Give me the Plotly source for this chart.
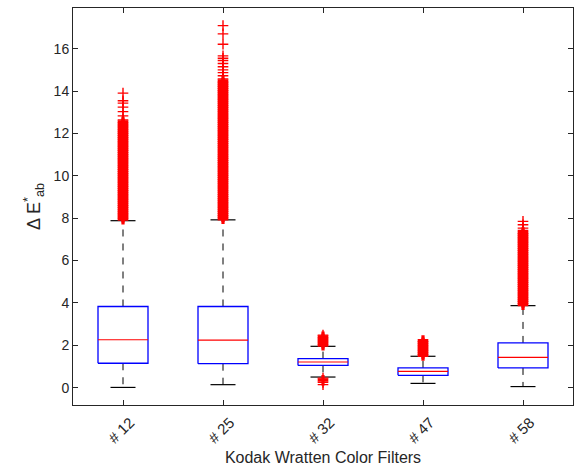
import plotly.graph_objects as go

# ---- data ----
filters = ["# 12", "# 25", "# 32", "# 47", "# 58"]
q1 = [1.15, 1.13, 1.05, 0.58, 0.93]
median = [2.26, 2.24, 1.21, 0.77, 1.43]
q3 = [3.83, 3.83, 1.37, 0.93, 2.11]
whisker_low = [0.01, 0.14, 0.50, 0.20, 0.05]
whisker_high = [7.88, 7.92, 1.95, 1.48, 3.87]

out_12 = [7.95, 8.05, 8.15, 8.25, 8.35, 8.45, 8.55, 8.65, 8.75, 8.85, 8.95, 9.05,
          9.15, 9.25, 9.35, 9.45, 9.55, 9.65, 9.75, 9.85, 9.95, 10.05, 10.15, 10.25,
          10.35, 10.45, 10.55, 10.65, 10.75, 10.85, 10.95, 11.05, 11.15, 11.25, 11.35,
          11.45, 11.55, 11.65, 11.75, 11.85, 11.95, 12.05, 12.15, 12.25, 12.35, 12.45,
          12.55, 12.64, 12.83, 13.03, 13.24, 13.43, 13.54, 13.9]
out_25 = [7.97, 8.07, 8.17, 8.27, 8.37, 8.47, 8.57, 8.67, 8.77, 8.87, 8.97, 9.07,
          9.17, 9.27, 9.37, 9.47, 9.57, 9.67, 9.77, 9.87, 9.97, 10.07, 10.17, 10.27,
          10.37, 10.47, 10.57, 10.67, 10.77, 10.87, 10.97, 11.07, 11.17, 11.27, 11.37,
          11.47, 11.57, 11.67, 11.77, 11.87, 11.97, 12.07, 12.17, 12.27, 12.37, 12.47,
          12.57, 12.67, 12.77, 12.87, 12.97, 13.07, 13.17, 13.27, 13.37, 13.47, 13.57,
          13.67, 13.77, 13.87, 13.97, 14.07, 14.17, 14.27, 14.37, 14.47, 14.57,
          14.72, 14.87, 15.0, 15.15, 15.3, 15.44, 15.55, 15.66, 16.21, 16.7, 17.09]
out_32 = [2.0, 2.1, 2.2, 2.3, 2.4, 2.48, 0.45, 0.35, 0.25, 0.14]
out_47 = [1.52, 1.62, 1.72, 1.82, 1.92, 2.02, 2.12, 2.22]
out_58 = [3.92, 4.02, 4.12, 4.22, 4.32, 4.42, 4.52, 4.62, 4.72, 4.82, 4.92, 5.02,
          5.12, 5.22, 5.32, 5.42, 5.52, 5.62, 5.72, 5.82, 5.92, 6.02, 6.12, 6.22,
          6.32, 6.42, 6.52, 6.62, 6.72, 6.82, 6.92, 7.02, 7.12, 7.22, 7.32, 7.42,
          7.53, 7.69, 7.85]
outliers = [out_12, out_25, out_32, out_47, out_58]

pos = list(range(1, len(filters) + 1))
BOXW = 0.5
CAPW = 0.25
AX = "#262626"

fig = go.Figure()

# whiskers (dashed black)
wx, wy = [], []
for p, a, b, c, d in zip(pos, whisker_low, q1, q3, whisker_high):
    wx += [p, p, None, p, p, None]
    wy += [b, a, None, c, d, None]
fig.add_trace(go.Scatter(x=wx, y=wy, mode="lines",
                         line=dict(color="black", width=1, dash="7px,7px"),
                         showlegend=False, hoverinfo="skip"))

# whisker caps
cx, cy = [], []
for p, a, d in zip(pos, whisker_low, whisker_high):
    cx += [p - CAPW / 2, p + CAPW / 2, None, p - CAPW / 2, p + CAPW / 2, None]
    cy += [a, a, None, d, d, None]
fig.add_trace(go.Scatter(x=cx, y=cy, mode="lines",
                         line=dict(color="black", width=1.2),
                         showlegend=False, hoverinfo="skip"))

# box bodies (blue rectangles)
bx, by = [], []
for p, a, b in zip(pos, q1, q3):
    l, r = p - BOXW / 2, p + BOXW / 2
    bx += [l, r, r, l, l, None]
    by += [a, a, b, b, a, None]
fig.add_trace(go.Scatter(x=bx, y=by, mode="lines",
                         line=dict(color="blue", width=1.3),
                         showlegend=False, hoverinfo="skip"))

# medians (red)
mx, my = [], []
for p, m in zip(pos, median):
    mx += [p - BOXW / 2, p + BOXW / 2, None]
    my += [m, m, None]
fig.add_trace(go.Scatter(x=mx, y=my, mode="lines",
                         line=dict(color="red", width=1.2),
                         showlegend=False, hoverinfo="skip"))

# outliers (red +); densely packed ones get a thicker stroke so they merge
ox, oy, lw = [], [], []
for p, vals in zip(pos, outliers):
    for i, v in enumerate(vals):
        gaps = [abs(v - vals[j]) for j in (i - 1, i + 1) if 0 <= j < len(vals)]
        dense = min(gaps) < 0.105 and max(gaps) < 0.105 if gaps else False
        ox.append(p)
        oy.append(v)
        lw.append(3.2 if dense else 1.4)
fig.add_trace(go.Scatter(x=ox, y=oy, mode="markers",
                         marker=dict(symbol="cross-thin", size=7.6,
                                     line=dict(color="red", width=lw)),
                         showlegend=False, hoverinfo="skip"))

font = "Liberation Sans, Arial, sans-serif"
fig.update_layout(
    width=581, height=471,
    margin=dict(l=73, r=8, t=8, b=66),
    plot_bgcolor="white", paper_bgcolor="white",
    font=dict(family=font, color=AX, size=14),
    xaxis=dict(range=[0.5, 5.5], tickvals=pos, ticktext=filters, tickangle=-45,
               ticks="inside", ticklen=5, tickcolor=AX, showline=True,
               linecolor=AX, linewidth=1, mirror="allticks", showgrid=False,
               zeroline=False, tickfont=dict(size=15, color=AX),
               ticklabelshift=7, ticklabelstandoff=2, automargin=False,
               title=dict(text="Kodak Wratten Color Filters",
                          font=dict(size=16, color=AX), standoff=6)),
    yaxis=dict(range=[-0.82, 17.92], tickvals=[0, 2, 4, 6, 8, 10, 12, 14, 16],
               ticks="inside", ticklen=5, tickcolor=AX, showline=True,
               linecolor=AX, linewidth=1, mirror="allticks", showgrid=False,
               zeroline=False, tickfont=dict(size=14, color=AX), automargin=False,
               title=dict(text="Δ E<sup>*</sup><sub>ab</sub>",
                          font=dict(size=18, color=AX), standoff=8)),
)

fig.write_html("out.html")
